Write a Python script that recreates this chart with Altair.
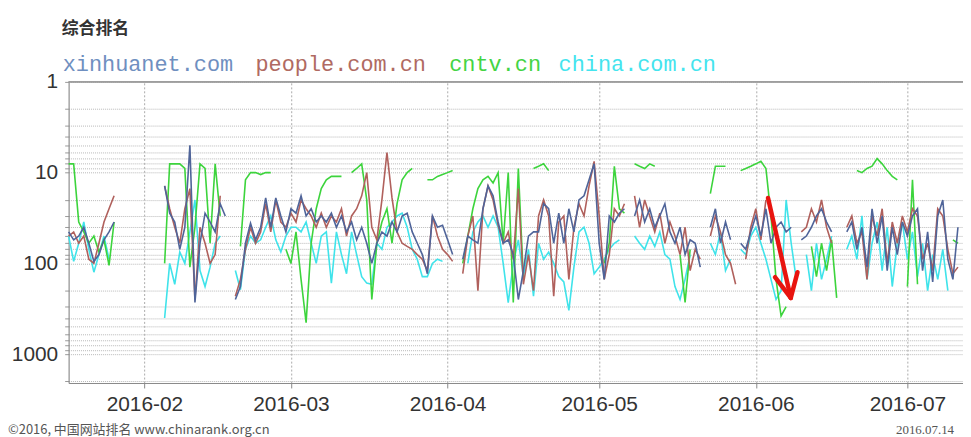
import altair as alt
import pandas as pd

START = "2016-01-17"
N = 177
SITES = ["china.com.cn", "cntv.cn", "people.com.cn", "xinhuanet.com"]
COLORS = ["#3fe3ea", "#3cd43c", "#b0605c", "#4f6499"]

# (first day index from START, daily ranks)
XINHUA = [
    (0, [45, 55, 50, 40, 60, 95, 80, 55, 45, 35]),
    (19, [14, 28, 35, 70, 40, 5, 270, 60, 28, 35, 45, 22, 30]),
    (33, [250, 180, 60, 36, 55, 40, 19, 40, 19, 30, 45, 25, 28, 18, 30, 25, 35, 30, 35, 28, 40, 30,
          45, 35, 55, 40, 60, 100, 60, 45, 50, 35, 45, 30, 28, 45, 60, 80, 130, 30, 40, 38, 55, 80]),
    (78, [90, 50, 55, 60, 25, 14, 18, 35, 60, 55, 80, 250, 120, 50, 45, 45, 22, 25, 60, 28, 60, 25,
          45, 20, 18, 12, 8, 60, 150, 30, 35, 28, 25]),
    (112, [30, 20, 35, 25, 40, 30, 22, 45, 60, 40, 80, 55, 60, 110]),
    (127, [40, 25, 60, 35, 55]),
    (133, [60, 70, 45, 30, 50, 25, 60, 40, 35, 45, 40]),
    (145, [55, 50, 40, 30, 25, 35, 45]),
    (154, [45, 35, 70, 40, 110, 25, 60, 30, 120, 40, 80, 35, 50, 30, 25, 120, 45, 160, 30, 20, 90,
           150, 40]),
]
PEOPLE = [
    (0, [50, 45, 60, 50, 90, 100, 60, 35, 25, 18]),
    (19, [14, 25, 40, 60, 25, 15, 250, 40, 60, 100, 80, 18]),
    (33, [230, 150, 70, 40, 60, 45, 22, 45, 20, 35, 40, 28, 35, 20, 25, 30, 40, 28, 40, 30, 35, 25,
          50, 30, 25, 18, 10, 40, 55, 20, 6, 19, 45, 60, 65, 70, 80, 90, 120, 30, 50, 70, 80, 95]),
    (78, [130, 50, 30, 200, 25, 14, 20, 38, 60, 45, 90, 15, 170, 80, 200, 30, 20, 30, 230, 35, 30,
          150, 40, 22, 30, 14, 7.5, 30, 150, 80, 25, 30, 22]),
    (112, [18, 40, 20, 30, 45, 28, 60, 35, 50, 80, 40, 120, 70, 90]),
    (127, [50, 30, 45, 80, 100, 170]),
    (134, [90, 40, 25, 55, 20]),
    (145, [45, 40, 25, 35, 20, 40, 60]),
    (154, [40, 30, 60, 45, 150, 30, 50, 25, 100, 35, 60, 30, 45, 25, 30, 90, 60, 120, 25, 30, 70,
           130, 110]),
]
CNTV = [
    (0, [8, 8, 35, 45, 60, 50, 75, 55, 105, 35]),
    (19, [100, 8, 8, 8, 9, 110, 40, 8, 9, 60, 8, 30]),
    (34, [65, 12, 10, 10, 10.5, 10, 10]),
    (43, [70, 100, 45, 150, 450, 60, 25, 15, 12, 11, 11, 11]),
    (56, [10, 9, 8, 20, 250, 60, 35, 25, 60, 22, 12, 10, 9]),
    (71, [12, 12, 11, 10.5, 10, 9.5]),
    (78, [100, 50, 25, 15, 12, 11, 13, 10, 60, 10, 270, 9, 150]),
    (92, [9, 8.5, 8, 9.5]),
    (106, [100, 60, 8.5, 25, 28]),
    (112, [8, 8.5, 9, 8, 8.5]),
    (121, [80, 270, 70]),
    (127, [17, 8.5, 8.5, 8.5]),
    (133, [9.5, 9, 8.5, 8, 7.5, 9, 30, 150, 380, 300]),
    (147, [65, 140, 60, 120, 55, 240]),
    (156, [9.5, 10, 9, 8.5, 7, 8, 9.5, 11, 12]),
    (166, [180, 12, 170]),
    (175, [55, 60]),
]
CHINA = [
    (0, [50, 95, 60, 35, 70, 125, 80, 50, 90]),
    (19, [400, 100, 170, 75, 100, 45, 20, 120, 180, 110, 60, 50]),
    (33, [120, 195, 70, 50, 60, 55, 40, 30, 55, 75, 50, 40, 40, 45, 35, 60, 100, 50, 45, 165, 45,
          80, 130, 45, 80, 140, 165, 170, 60, 70, 40, 35, 30, 28, 40, 70, 90, 140, 140, 100, 90, 95]),
    (79, [100, 45, 35, 30, 40, 30, 40, 100, 270, 100, 55, 140, 70, 230, 60, 90, 75, 100, 140, 160,
          330, 110, 45, 40, 60, 130, 110, 90, 70, 60, 55]),
    (112, [50, 60, 70, 50, 65, 45, 80, 90, 180, 250, 150, 80]),
    (127, [60, 80, 45, 120, 90]),
    (133, [70, 80, 50, 40, 60, 90, 150, 250, 200, 20, 60, 150]),
    (146, [80, 200, 60, 150, 90, 50]),
    (154, [70, 50, 90, 30, 150, 60, 35, 120, 40, 180, 60, 35, 90, 45, 140, 60, 200, 80, 150, 70,
           200]),
]

MONTH_TICKS = [(2016, m) for m in range(2, 8)]
Y_TICKS = [1, 2, 3, 4, 5, 6, 7, 8, 9, 10, 20, 30, 40, 50, 60, 70, 80, 90,
           100, 200, 300, 400, 500, 600, 700, 800, 900, 1000, 2000]

# annotation arrow (date, rank) -> (date2, rank2)
ARROW = [
    ("2016-06-03T10:00:00Z", 19, "2016-06-07T22:00:00Z", 240),
    ("2016-06-04T19:00:00Z", 142, "2016-06-07T22:00:00Z", 240),
    ("2016-06-09T06:00:00Z", 125, "2016-06-07T22:00:00Z", 240),
]


def expand(segs):
    vals = [None] * N
    for start, seg in segs:
        for i, v in enumerate(seg):
            vals[start + i] = v
    return vals


dates = pd.date_range(START, periods=N, freq="D")
rows = []
for site, segs in zip(SITES, [CHINA, CNTV, PEOPLE, XINHUA]):
    for d, v in zip(dates, expand(segs)):
        rows.append({"date": d.strftime("%Y-%m-%d"), "site": site, "rank": v})
df = pd.DataFrame(rows)

arrow_df = pd.DataFrame(ARROW, columns=["date", "rank", "date2", "rank2"])

x_scale = alt.Scale(type="utc", domain=[alt.DateTime(year=2016, month=1, date=17, utc=True),
                                        alt.DateTime(year=2016, month=7, date=12, utc=True)])
y_scale = alt.Scale(type="log", domain=[1, 2080], reverse=True, nice=False)

x_axis = alt.Axis(
    values=[alt.DateTime(year=y, month=m, date=1, utc=True) for y, m in MONTH_TICKS],
    format="%Y-%m", title=None, labelFontSize=21, labelFont="Liberation Sans",
    labelColor="#333", tickSize=5, labelPadding=6, grid=True, gridDash=[2, 2],
    gridColor="#aaaaaa", domainColor="#888", tickColor="#888", labelFlush=False,
)
y_axis = alt.Axis(
    values=Y_TICKS, title=None, labelFontSize=21, labelFont="Liberation Sans",
    labelColor="#333", tickSize=4, labelPadding=7, grid=True, gridDash=[1, 1],
    gridColor="#b8b8b8", gridOpacity=1, domainColor="#888", tickColor="#999",
    labelExpr="(datum.value==1||datum.value==10||datum.value==100||datum.value==1000) ? datum.value : ''",
)

lines = alt.Chart(df).mark_line(strokeWidth=1.6, invalid="break-paths-show-domains").encode(
    x=alt.X("date:T", scale=x_scale, axis=x_axis),
    y=alt.Y("rank:Q", scale=y_scale, axis=y_axis),
    color=alt.Color("site:N", scale=alt.Scale(domain=SITES, range=COLORS), legend=None),
    order=alt.Order("date:T"),
)

arrow = alt.Chart(arrow_df).mark_rule(color="#e8140f", strokeWidth=4.5, strokeCap="round").encode(
    x="date:T", x2="date2:T", y="rank:Q", y2="rank2:Q"
)

top_border = alt.Chart(arrow_df).mark_rule(color="#999", strokeWidth=1).encode(
    x=alt.value(0), x2=alt.value(900), y=alt.value(0)
)


def label(text, x, y, color, size, font, weight="normal", align="left", baseline="alphabetic"):
    return alt.Chart(pd.DataFrame({"t": [text]})).mark_text(
        align=align, baseline=baseline, fontSize=size, font=font, fontWeight=weight, color=color
    ).encode(text="t:N", x=alt.value(x), y=alt.value(y))


texts = [
    label("综合排名", -7, -48, "#333", 17, "Noto Sans CJK SC", weight="bold"),
    label("xinhuanet.com", -6, -11, "#6f8fc0", 22, "Liberation Mono"),
    label("people.com.cn", 188, -11, "#b06a62", 22, "Liberation Mono"),
    label("cntv.cn", 383, -11, "#44d444", 22, "Liberation Mono"),
    label("china.com.cn", 493, -11, "#44e4ee", 22, "Liberation Mono"),
    label("©2016, 中国网站排名 www.chinarank.org.cn", -61, 354, "#555", 13, "Noto Sans CJK SC"),
    label("2016.07.14", 891, 354, "#555", 13, "Liberation Serif", align="right"),
]

chart = alt.layer(lines, arrow, top_border, *texts).properties(
    width=900, height=303,
    autosize=alt.AutoSizeParams(type="none"),
    padding={"left": 61, "top": 73, "right": 0, "bottom": 53},
).configure_view(stroke=None).configure(background="white")

chart.save("out.html", embed_options={"renderer": "svg", "actions": False})
